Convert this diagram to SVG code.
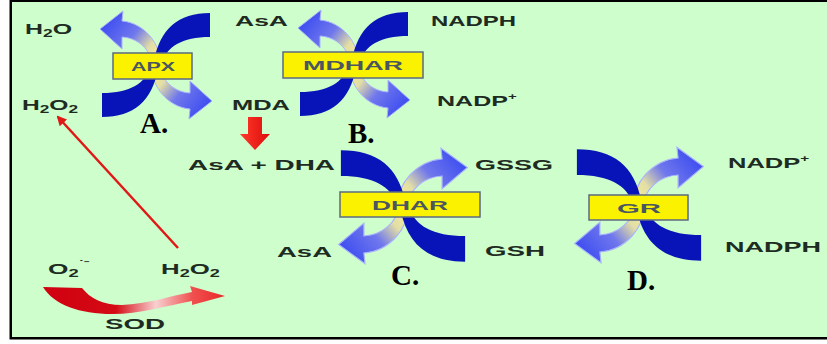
<svg xmlns="http://www.w3.org/2000/svg" width="827" height="344" viewBox="0 0 827 344">
<style>
.lbl{font-family:"Liberation Sans",Arial,sans-serif;font-weight:bold;font-size:15px;fill:#1e2b22}
.sub{font-size:10.5px}
.sup{font-size:9px}
.enz{font-family:"Liberation Sans",Arial,sans-serif;font-weight:bold;font-size:13px;fill:#4a5660;text-anchor:middle}
.box{fill:#fbf200;stroke:#5c6a84;stroke-width:1.5}
.let{font-family:"Liberation Serif","Times New Roman",serif;font-weight:bold;font-size:29px;fill:#000}
.dark{fill:#0814b8}
.grad{fill:url(#gArrow);stroke:#aab2ff;stroke-width:1}
</style>
<defs>
<linearGradient id="gArrow" gradientUnits="userSpaceOnUse" x1="0" y1="0" x2="-52" y2="-40">
<stop offset="0" stop-color="#f4ee96"/>
<stop offset="0.25" stop-color="#e2dea6"/>
<stop offset="0.55" stop-color="#7078ec"/>
<stop offset="1" stop-color="#3f4ff0"/>
</linearGradient>
<linearGradient id="gSod" x1="0" y1="0" x2="1" y2="0">
<stop offset="0" stop-color="#d00010"/>
<stop offset="0.4" stop-color="#d40a14"/>
<stop offset="0.62" stop-color="#f8d0d0"/>
<stop offset="0.82" stop-color="#f05050"/>
<stop offset="1" stop-color="#e82828"/>
</linearGradient>
<linearGradient id="gDown" x1="0" y1="0" x2="1" y2="0">
<stop offset="0" stop-color="#ff3a2a"/>
<stop offset="1" stop-color="#dc0c0c"/>
</linearGradient>
<marker id="mRed" viewBox="0 0 10 10" refX="8" refY="5" markerWidth="4" markerHeight="4" orient="auto">
<path d="M0,0 L10,5 L0,10 Z" fill="#e01818"/>
</marker>
<g id="cross">
<path class="grad" d="M5,2 C5,-22 -12,-42 -34,-44 L-33,-54 L-56,-36 L-34,-16 L-34,-28 C-18,-27 -5,-16 -3,2 Z"/>
<path class="grad" transform="rotate(180)" d="M5,2 C5,-22 -12,-42 -34,-44 L-33,-54 L-56,-36 L-34,-16 L-34,-28 C-18,-27 -5,-16 -3,2 Z"/>
<path class="dark" d="M54,-52 C22,-52 4,-36 -2,-4 L6,-2 C10,-18 26,-28 54,-28 Z"/>
<path class="dark" transform="rotate(180)" d="M54,-52 C22,-52 4,-36 -2,-4 L6,-2 C10,-18 26,-28 54,-28 Z"/>
</g>
</defs>
<rect x="0" y="0" width="827" height="344" fill="#ffffff"/>
<rect x="9.5" y="0" width="818" height="339.5" fill="#000"/>
<rect x="12" y="2" width="815" height="335" fill="#cdfecb"/>

<g id="connectors">
<line x1="178" y1="248" x2="58" y2="117" stroke="#e01818" stroke-width="2.5" marker-end="url(#mRed)"/>
<path d="M248,117 L262,117 L262,134 L270,134 L255,150 L240,134 L248,134 Z" fill="url(#gDown)"/>
<path d="M43,287 L82,288 C90,298 102,305 122,305 C148,304 170,296 192,292 L190,286 L225,296 L192,305 L192,301 C165,306 140,314 112,314 C80,314 54,305 43,287 Z" fill="url(#gSod)"/>
</g>

<g id="apx">
<use href="#cross" transform="translate(156,65)"/>
<rect class="box" x="113" y="53" width="79" height="26"/>
<text class="enz" x="153" y="71" textLength="44" lengthAdjust="spacingAndGlyphs">APX</text>
</g>
<g id="mdhar">
<use href="#cross" transform="translate(354,64)"/>
<rect class="box" x="283" y="52" width="140" height="26"/>
<text class="enz" x="353" y="70" textLength="100" lengthAdjust="spacingAndGlyphs">MDHAR</text>
</g>
<g id="dhar">
<use href="#cross" transform="translate(403,206) scale(-1.15,1.07)"/>
<rect class="box" x="340" y="192" width="140" height="25"/>
<text class="enz" x="410" y="210" textLength="76" lengthAdjust="spacingAndGlyphs">DHAR</text>
</g>
<g id="gr">
<use href="#cross" transform="translate(639,205) scale(-1.15,1.07)"/>
<rect class="box" x="589" y="195" width="99" height="25"/>
<text class="enz" x="639" y="213" textLength="44" lengthAdjust="spacingAndGlyphs">GR</text>
</g>

<g id="labels">
<text class="lbl" transform="translate(25,34) scale(1.66,1)">H<tspan class="sub" dy="3">2</tspan><tspan dy="-3">O</tspan></text>
<text class="lbl" transform="translate(22,110) scale(1.64,1)">H<tspan class="sub" dy="3">2</tspan><tspan dy="-3">O</tspan><tspan class="sub" dy="3">2</tspan></text>
<text class="lbl" x="235" y="26" textLength="53" lengthAdjust="spacingAndGlyphs">AsA</text>
<text class="lbl" x="431" y="26" textLength="85" lengthAdjust="spacingAndGlyphs">NADPH</text>
<text class="lbl" x="232" y="110" textLength="58" lengthAdjust="spacingAndGlyphs">MDA</text>
<text class="lbl" transform="translate(437,106) scale(1.67,1)">NADP<tspan class="sup" dy="-6">+</tspan></text>
<text class="lbl" x="188" y="170" textLength="147" lengthAdjust="spacingAndGlyphs">AsA + DHA</text>
<text class="lbl" x="475" y="170" textLength="78" lengthAdjust="spacingAndGlyphs">GSSG</text>
<text class="lbl" x="277" y="257" textLength="55" lengthAdjust="spacingAndGlyphs">AsA</text>
<text class="lbl" x="485" y="256" textLength="60" lengthAdjust="spacingAndGlyphs">GSH</text>
<text class="lbl" transform="translate(728,168) scale(1.7,1)">NADP<tspan class="sup" dy="-6">+</tspan></text>
<text class="lbl" x="725" y="252" textLength="96" lengthAdjust="spacingAndGlyphs">NADPH</text>
<text class="lbl" transform="translate(48,274) scale(1.75,1)">O<tspan class="sub" dy="3">2</tspan><tspan class="sup" dy="-10">˙⁻</tspan></text>
<text class="lbl" transform="translate(161,274) scale(1.72,1)">H<tspan class="sub" dy="3">2</tspan><tspan dy="-3">O</tspan><tspan class="sub" dy="3">2</tspan></text>
<text class="lbl" x="105" y="329" textLength="60" lengthAdjust="spacingAndGlyphs">SOD</text>
</g>

<g id="letters">
<text class="let" x="140" y="133">A.</text>
<text class="let" x="348" y="143">B.</text>
<text class="let" x="391" y="285">C.</text>
<text class="let" x="627" y="290">D.</text>
</g>
</svg>
